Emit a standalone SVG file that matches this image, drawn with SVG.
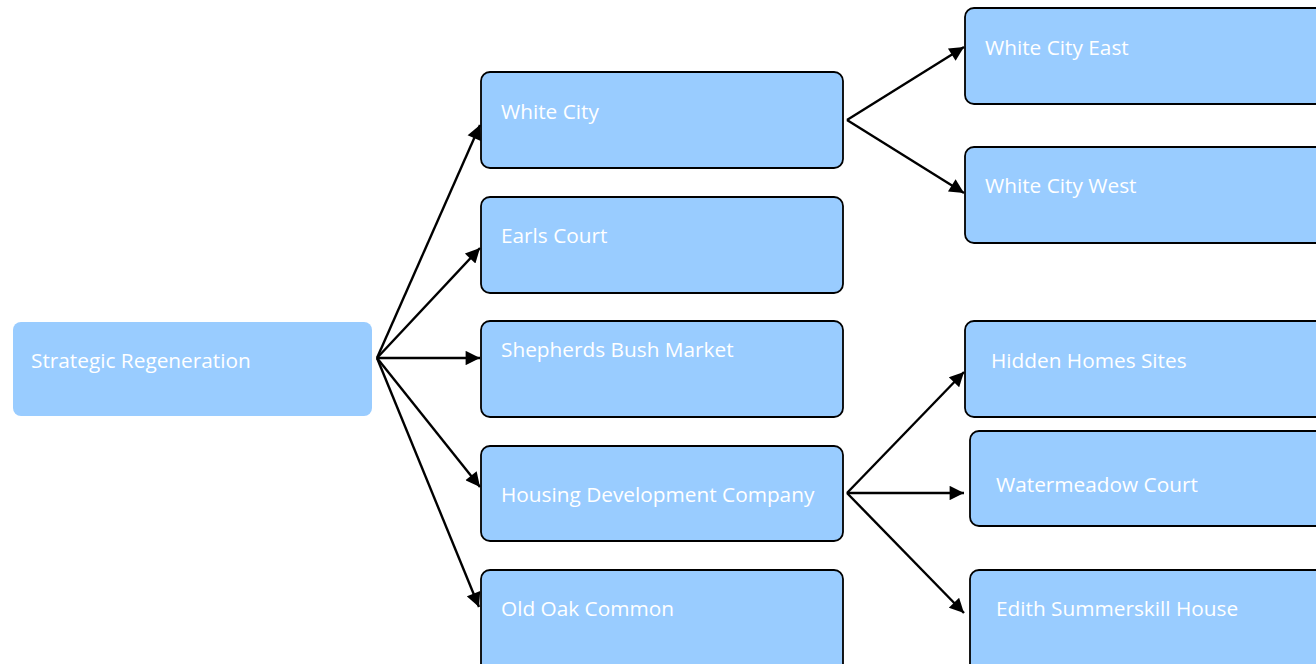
<svg xmlns="http://www.w3.org/2000/svg" width="1316" height="664" viewBox="0 0 1316 664">
<style>
.box{fill:#99ccff;stroke:#000;stroke-width:1.8}
.root{fill:#99ccff}
.t{font-family:"Open Sans","Noto Sans",sans-serif;font-size:20.8px;fill:#fff;dominant-baseline:central}
.c line{stroke:#000;stroke-width:2.4;marker-end:url(#ah)}
</style>
<defs>
<marker id="ah" viewBox="0 0 10 10" refX="10" refY="5" markerWidth="7.5" markerHeight="6" markerUnits="strokeWidth" orient="auto">
<path d="M0,0 L10,5 L0,10 z" fill="#000"/>
</marker>
</defs>
<rect width="1316" height="664" fill="#fff"/>
<g id="n-root"><rect class="root" x="13" y="322" width="359" height="94" rx="8"/><text class="t" x="31" y="360">Strategic Regeneration</text></g>
<g id="n-whitecity"><rect class="box" x="481" y="72" width="362" height="96" rx="9"/><text class="t" x="501" y="111">White City</text></g>
<g id="n-earls"><rect class="box" x="481" y="197" width="362" height="96" rx="9"/><text class="t" x="501" y="235">Earls Court</text></g>
<g id="n-shepherds"><rect class="box" x="481" y="321" width="362" height="96" rx="9"/><text class="t" x="501" y="349">Shepherds Bush Market</text></g>
<g id="n-housing"><rect class="box" x="481" y="446" width="362" height="95" rx="9"/><text class="t" x="501" y="494">Housing Development Company</text></g>
<g id="n-oldoak"><rect class="box" x="481" y="570" width="362" height="110" rx="9"/><text class="t" x="501" y="608">Old Oak Common</text></g>
<g id="n-wceast"><rect class="box" x="965" y="8" width="370" height="96" rx="9"/><text class="t" x="985" y="47">White City East</text></g>
<g id="n-wcwest"><rect class="box" x="965" y="147" width="370" height="96" rx="9"/><text class="t" x="985" y="185">White City West</text></g>
<g id="n-hidden"><rect class="box" x="965" y="321" width="370" height="96" rx="9"/><text class="t" x="991" y="360">Hidden Homes Sites</text></g>
<g id="n-water"><rect class="box" x="970" y="431" width="370" height="95" rx="9"/><text class="t" x="996" y="484">Watermeadow Court</text></g>
<g id="n-edith"><rect class="box" x="970" y="570" width="370" height="110" rx="9"/><text class="t" x="996" y="608">Edith Summerskill House</text></g>
<g id="connectors" class="c">
<line x1="377" y1="358" x2="480" y2="125"/>
<line x1="377" y1="358" x2="480" y2="248"/>
<line x1="377" y1="358" x2="480" y2="358"/>
<line x1="377" y1="358" x2="480" y2="487"/>
<line x1="377" y1="358" x2="479" y2="607"/>
<line x1="847" y1="120" x2="964" y2="47"/>
<line x1="847" y1="120" x2="964" y2="193"/>
<line x1="847" y1="493" x2="964" y2="372"/>
<line x1="847" y1="493" x2="964" y2="493"/>
<line x1="847" y1="493" x2="964" y2="613"/>
</g>
</svg>
